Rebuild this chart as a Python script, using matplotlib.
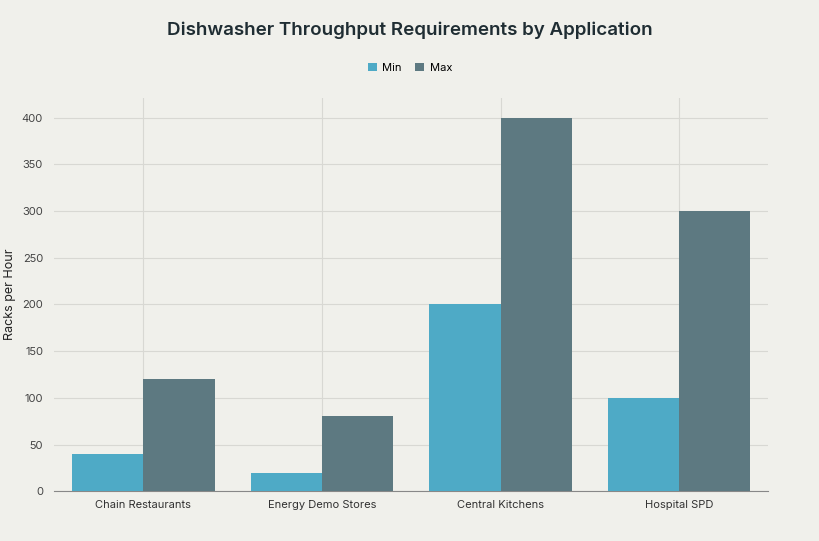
import matplotlib
matplotlib.use("Agg")
import matplotlib.pyplot as plt
import numpy as np

categories = ["Chain Restaurants", "Energy Demo Stores", "Central Kitchens", "Hospital SPD"]
min_vals = [40, 20, 200, 100]
max_vals = [120, 80, 400, 300]
yticks = [0, 50, 100, 150, 200, 250, 300, 350, 400]

bg = "#f0f0eb"
plt.rcParams["font.family"] = "Inter"
fig = plt.figure(figsize=(8.2, 5.41), dpi=100, facecolor=bg)
ax = fig.add_axes([0.066, 0.092, 0.871, 0.727], facecolor=bg)

x = np.arange(len(categories))
w = 0.4
ax.bar(x - w/2, min_vals, w, color="#4eaac6", label="Min", zorder=3)
ax.bar(x + w/2, max_vals, w, color="#5d7981", label="Max", zorder=3)

ax.set_xlim(-0.5, 3.5)
ax.set_ylim(0, 421)
ax.set_yticks(yticks)
ax.set_xticks(x)
ax.set_xticklabels(categories, fontsize=8, color="#333333")
ax.tick_params(axis="y", labelsize=8, colors="#444444", length=0, pad=8)
ax.tick_params(axis="x", length=0, pad=6)
ax.grid(True, color="#d8d8d3", linewidth=0.8, zorder=0)
for s in ["top", "right", "left"]:
    ax.spines[s].set_visible(False)
ax.spines["bottom"].set_color("#888888")
ax.set_ylabel("Racks per Hour", fontsize=9, color="#222222")

fig.text(0.5, 0.944, "Dishwasher Throughput Requirements by Application",
         ha="center", va="center", fontsize=13.5, fontweight="semibold", color="#1f2d33")
fig.legend(loc="center", bbox_to_anchor=(0.5, 0.875), ncol=2, frameon=False,
           fontsize=8, handlelength=0.8, handleheight=0.8, columnspacing=1.2, handletextpad=0.5)

fig.savefig("out.png", dpi=100, facecolor=bg)
